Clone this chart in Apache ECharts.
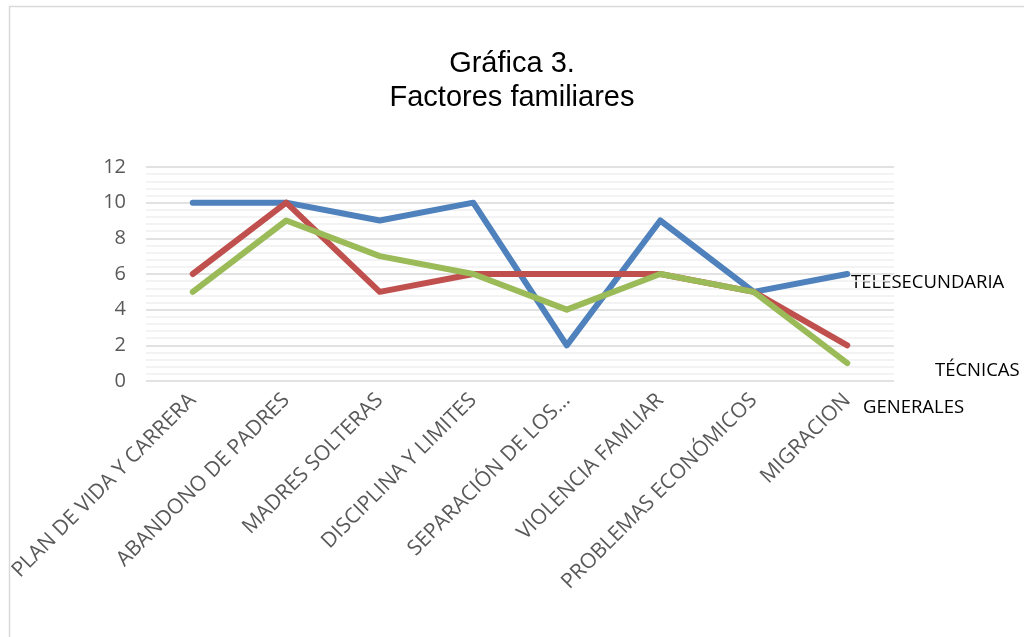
<!DOCTYPE html>
<html>
<head>
<meta charset="utf-8">
<script src="https://cdn.jsdelivr.net/npm/echarts@6/dist/echarts.min.js"></script>
<style>
  html, body { margin: 0; padding: 0; background: #fff; }
  #chart { width: 1024px; height: 637px; }
</style>
</head>
<body>
<div id="chart"></div>
<script>
// ──── data ────
const categories = [
  'PLAN DE VIDA Y CARRERA', 'ABANDONO DE PADRES', 'MADRES SOLTERAS',
  'DISCIPLINA Y LIMITES', 'SEPARACIÓN DE LOS…', 'VIOLENCIA FAMLIAR',
  'PROBLEMAS ECONÓMICOS', 'MIGRACION'
];
const telesecundaria = [10, 10, 9, 10, 2, 9, 5, 6];
const tecnicas = [6, 10, 5, 6, 6, 6, 5, 2];
const generales = [5, 9, 7, 6, 4, 6, 5, 1];
const yTicks = [0, 2, 4, 6, 8, 10, 12];

const seriesDefs = [
  { name: 'TELESECUNDARIA', data: telesecundaria, color: '#4f81bd' },
  { name: 'TÉCNICAS', data: tecnicas, color: '#c0504d' },
  { name: 'GENERALES', data: generales, color: '#9bbb59' },
];

const chart = echarts.init(document.getElementById('chart'), null, { renderer: 'canvas' });

const labelFont = 'Open Sans, Liberation Sans, sans-serif';

chart.setOption({
  animation: false,
  title: {
    text: 'Gráfica 3.\nFactores familiares',
    left: 'center',
    top: 42,
    textStyle: {
      fontFamily: 'Liberation Sans, Arial, sans-serif',
      fontSize: 29,
      fontWeight: 'normal',
      color: '#000',
      lineHeight: 34,
    },
  },
  grid: { left: 146, right: 130, top: 167, bottom: 256 },
  xAxis: {
    type: 'category',
    data: categories,
    boundaryGap: true,
    axisLine: { show: false },
    axisTick: { show: false },
    axisLabel: {
      rotate: 45,
      interval: 0,
      margin: 16,
      fontFamily: labelFont,
      fontSize: 21,
      color: '#595959',
    },
  },
  yAxis: {
    type: 'value',
    min: yTicks[0],
    max: yTicks[yTicks.length - 1],
    interval: 2,
    axisLine: { show: false },
    axisTick: { show: false },
    axisLabel: {
      margin: 20,
      fontFamily: labelFont,
      fontSize: 20,
      color: '#595959',
    },
    splitLine: { lineStyle: { color: '#d9d9d9', width: 1.5 } },
    minorTick: { show: false, splitNumber: 5 },
    minorSplitLine: { show: true, lineStyle: { color: '#f0f0f0', width: 1.5 } },
  },
  series: seriesDefs.map(s => ({
    name: s.name,
    type: 'line',
    data: s.data,
    symbol: 'none',
    lineStyle: { color: s.color, width: 6, cap: 'round', join: 'round' },
    itemStyle: { color: s.color },
  })),
  graphic: [
    {
      type: 'rect',
      shape: { x: 9.5, y: 6.5, width: 1100, height: 700 },
      style: { fill: 'none', stroke: '#d9d9d9', lineWidth: 1.5 },
      silent: true,
    },
    { type: 'text', left: 851, top: 273, style: { text: 'TELESECUNDARIA', font: '18.5px ' + labelFont, fill: '#000' } },
    { type: 'text', left: 935, top: 361, style: { text: 'TÉCNICAS', font: '18.5px ' + labelFont, fill: '#000' } },
    { type: 'text', left: 863, top: 398, style: { text: 'GENERALES', font: '18.5px ' + labelFont, fill: '#000' } },
  ],
});
</script>
</body>
</html>
